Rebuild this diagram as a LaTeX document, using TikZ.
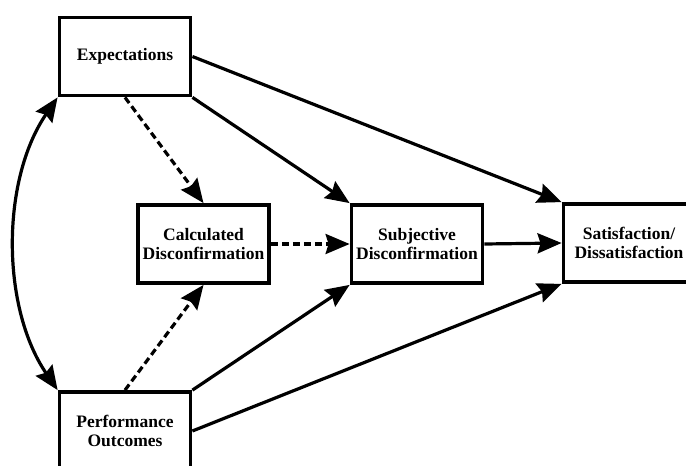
\documentclass[tikz,border=0pt]{standalone}
\usepackage{fontspec}
\setmainfont{Liberation Serif}
\usetikzlibrary{arrows.meta}

\begin{document}
\begin{tikzpicture}[x=1pt,y=-1pt,
    box/.style={draw, line width=3.8pt, minimum width=131pt, minimum height=78pt,
      align=center, inner sep=2pt, font=\bfseries\fontsize{17.5}{18.5}\selectfont},
    link/.style={line width=3.2pt, -{Stealth[length=24pt,width=20pt,inset=3pt]}},
    dlink/.style={link, dash pattern=on 7pt off 4pt}]
      % Page size
      \useasboundingbox (0,0) rectangle (686,466);

      % Boxes
      \node[box] (exp) at (125,56.5) {Expectations};
      \node[box] (calc) at (203.5,244) {Calculated\\Disconfirmation};
      \node[box] (subj) at (417,244) {Subjective\\Disconfirmation};
      \node[box] (sat) at (629,243) {Satisfaction/\\Dissatisfaction};
      \node[box] (perf) at (125,431) {Performance\\Outcomes};

      % Dashed paths
      \draw[dlink] (exp.south) -- (calc.north);
      \draw[dlink] (perf.north) -- (calc.south);
      \draw[dlink] (calc.east) -- (subj.west);

      % Solid paths
      \draw[link] (exp.south east) -- (subj.north west);
      \draw[link] (exp.east) -- (sat.north west);
      \draw[link] (perf.north east) -- (subj.south west);
      \draw[link] (perf.east) -- (sat.south west);
      \draw[link] (subj.east) -- (sat.west);

      % Correlation between expectations and performance
      \draw[link, {Stealth[length=24pt,width=20pt,inset=3pt]}-{Stealth[length=24pt,width=20pt,inset=3pt]}]
        (exp.south west) .. controls (1,180) and (1,307) .. (perf.north west);
    \end{tikzpicture}
\end{document}
